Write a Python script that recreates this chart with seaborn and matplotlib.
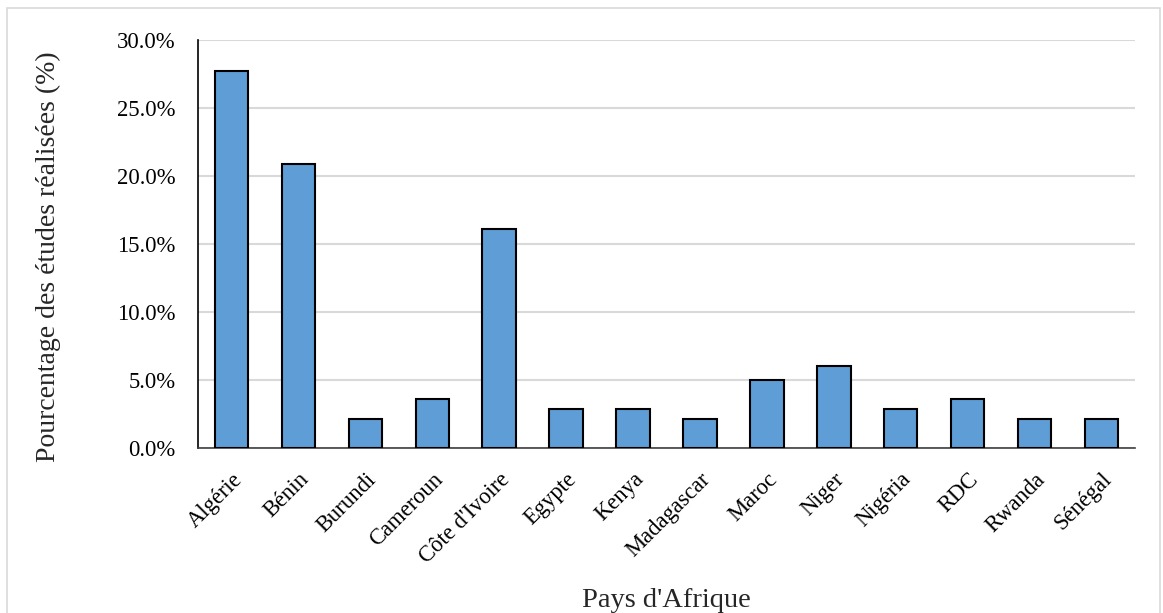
import pandas as pd
import matplotlib.pyplot as plt
import matplotlib.ticker as mticker
from matplotlib.patches import Rectangle
import seaborn as sns

# Données (pourcentage des études par pays)
pays = ['Algérie', 'Bénin', 'Burundi', 'Cameroun', "Côte d'Ivoire", 'Egypte',
        'Kenya', 'Madagascar', 'Maroc', 'Niger', 'Nigéria', 'RDC', 'Rwanda', 'Sénégal']
pourcentages = [27.7, 20.9, 2.1, 3.6, 16.1, 2.9, 2.9, 2.1, 5.0, 6.0, 2.9, 3.6, 2.1, 2.1]

df = pd.DataFrame({'Pays': pays, 'Pourcentage': pourcentages})

sns.set_style("white")
plt.rcParams['font.family'] = ['Liberation Serif', 'DejaVu Serif']

fig = plt.figure(figsize=(11.63, 6.13), dpi=100)
ax = fig.add_axes([198 / 1163, 1 - 448 / 613, (1135 - 198) / 1163, (448 - 40) / 613])

sns.barplot(data=df, x='Pays', y='Pourcentage', color='#5E9DD6', saturation=1,
            width=0.5, edgecolor='black', linewidth=1.5, ax=ax, zorder=3)

ax.set_ylim(0, 30)
ax.set_yticks([0, 5, 10, 15, 20, 25, 30])
ax.yaxis.set_major_formatter(mticker.FuncFormatter(lambda v, p: f'{v:.1f}%'))
ax.grid(axis='y', color='#D9D9D9', linewidth=1.5, zorder=0)
ax.set_axisbelow(True)

for s in ['top', 'right']:
    ax.spines[s].set_visible(False)
ax.spines['left'].set_color('black')
ax.spines['left'].set_linewidth(1.2)
ax.spines['bottom'].set_color('#404040')
ax.spines['bottom'].set_linewidth(1.2)

ax.tick_params(axis='y', length=0, labelsize=16.3, colors='black', pad=16)
ax.tick_params(axis='x', length=0, labelsize=16.3, colors='black', pad=15)
plt.setp(ax.get_xticklabels(), rotation=45, ha='right', rotation_mode='anchor')

ax.set_xlabel("Pays d'Afrique", fontsize=20.5)
ax.set_ylabel('Pourcentage des études réalisées (%)', fontsize=20)
ax.xaxis.set_label_coords(0.5, -0.342)
ax.yaxis.set_label_coords(-0.146, 0.47)

# Cadre gris autour de la figure
fig.patches.append(Rectangle((7 / 1163, -0.05), 1153 / 1163, 1.05 - 8 / 613,
                             transform=fig.transFigure, fill=False,
                             edgecolor='#D9D9D9', linewidth=1.2))

plt.savefig('out.png', dpi=100)
plt.close()
